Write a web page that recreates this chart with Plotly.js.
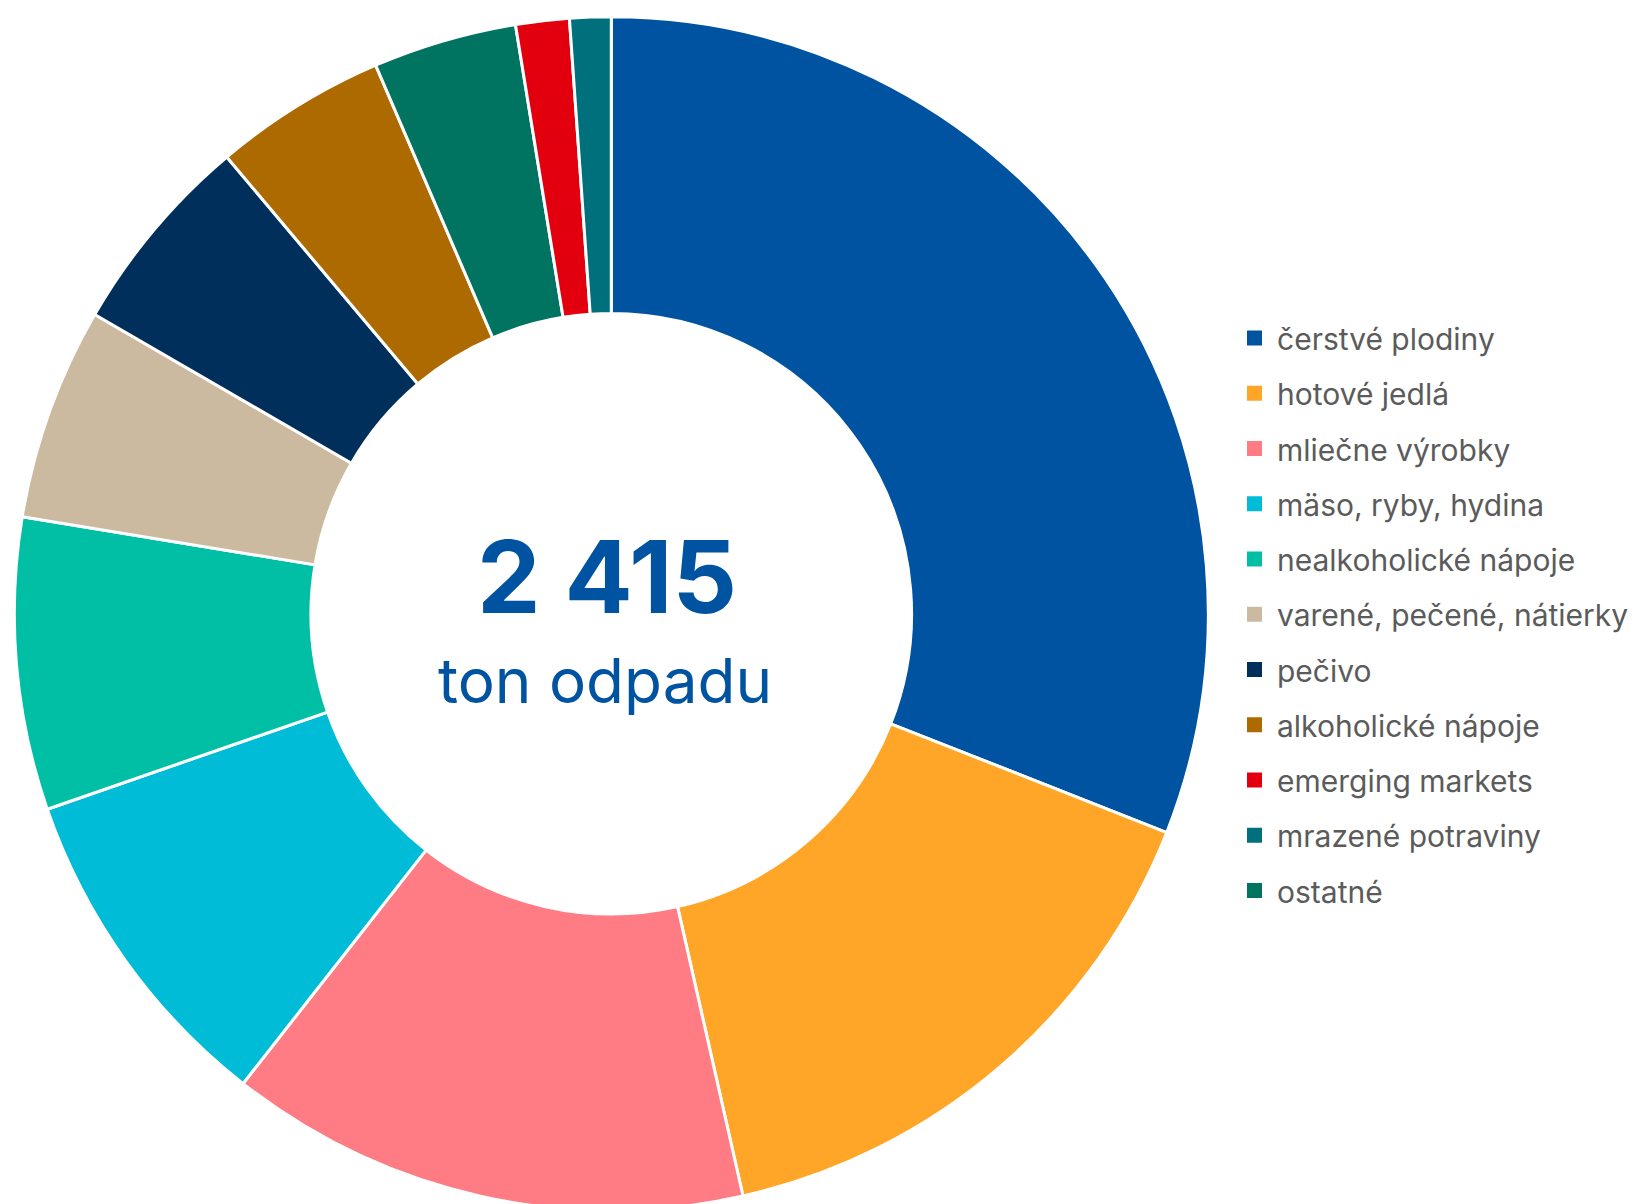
<!DOCTYPE html>
<html>
<head>
<meta charset="utf-8">
<script src="https://cdn.plot.ly/plotly-3.0.1.min.js"></script>
<style>
  html, body { margin: 0; padding: 0; background: #ffffff; overflow: hidden; }
  #wrap { width: 1637px; height: 1204px; overflow: hidden; position: relative; }
  #chart { width: 1637px; height: 1230px; }
</style>
</head>
<body>
<div id="wrap"><div id="chart"></div></div>
<script>
// Categories in legend order
const categories = [
  "čerstvé plodiny",
  "hotové jedlá",
  "mliečne výrobky",
  "mäso, ryby, hydina",
  "nealkoholické nápoje",
  "varené, pečené, nátierky",
  "pečivo",
  "alkoholické nápoje",
  "emerging markets",
  "mrazené potraviny",
  "ostatné"
];
// Estimated tons of waste per category (total 2 415)
const tons = [748, 374, 341, 220, 191, 139, 133, 113, 35, 27, 94];
const colors = [
  "#0053a0", "#ffa628", "#ff7c84", "#00bcd6", "#00bfa5",
  "#cbb9a0", "#002f5c", "#ad6a00", "#e2000f", "#00707c", "#007461"
];
const totalLabel = "2 415";
const unitLabel = "ton odpadu";

const W = 1637, H = 1230;
const px = x => x / W;
const py = y => 1 - y / H;

// donut geometry (pixels)
const cx = 611.3, cy = 613.7, R = 597;

const pie = {
  type: "pie",
  labels: categories,
  values: tons,
  marker: { colors: colors, line: { color: "#ffffff", width: 3 } },
  hole: 0.503,
  sort: true,
  direction: "clockwise",
  rotation: 0,
  textinfo: "none",
  hoverinfo: "label+value+percent",
  showlegend: false,
  domain: { x: [px(cx - R), px(cx + R)], y: [py(cy + R), py(cy - R)] }
};

const annotations = [
  { text: "<b>" + totalLabel + "</b>", x: px(607), y: py(576), xref: "paper", yref: "paper",
    xanchor: "center", yanchor: "middle", showarrow: false,
    font: { family: "Inter, sans-serif", size: 101, color: "#0053a0" } },
  { text: unitLabel, x: px(605), y: py(680), xref: "paper", yref: "paper",
    xanchor: "center", yanchor: "middle", showarrow: false,
    font: { family: "Inter, sans-serif", size: 62, color: "#0053a0" } }
];
const shapes = [];

// manual legend (keeps the reference order)
const legX = 1254.5, legY0 = 338, legStep = 55.25, sq = 15;
categories.forEach((c, i) => {
  const yc = legY0 + i * legStep;
  shapes.push({
    type: "rect", xref: "paper", yref: "paper",
    x0: px(legX - sq / 2), x1: px(legX + sq / 2),
    y0: py(yc + sq / 2), y1: py(yc - sq / 2),
    fillcolor: colors[i], line: { width: 0 }
  });
  annotations.push({
    text: c, x: px(1275), y: py(yc + 1), xref: "paper", yref: "paper",
    xanchor: "left", yanchor: "middle", showarrow: false,
    font: { family: "Inter, sans-serif", size: 30, color: "#5b5b5b" }
  });
});

const layout = {
  width: W, height: H,
  margin: { l: 0, r: 0, t: 0, b: 0 },
  paper_bgcolor: "#ffffff",
  showlegend: false,
  annotations: annotations,
  shapes: shapes
};

Plotly.newPlot("chart", [pie], layout, { displayModeBar: false, staticPlot: true });
</script>
</body>
</html>
